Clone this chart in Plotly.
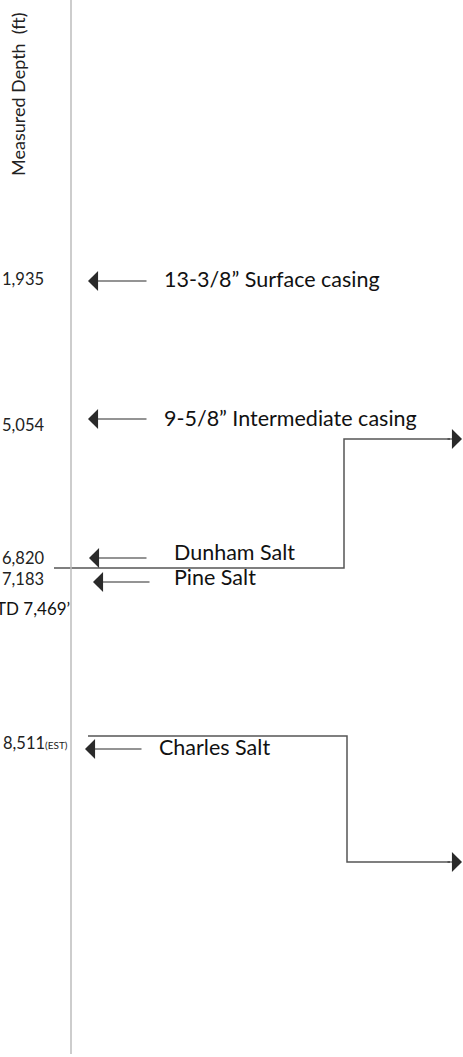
import plotly.graph_objects as go

# ---- data ----
depths = [1935, 5054, 6820, 7183, 8511]
depth_labels = ["1,935", "5,054", "6,820", "7,183", "8,511"]
depth_suffix = ["", "", "", "", "(EST)"]
formations = ["13-3/8” Surface casing", "9-5/8” Intermediate casing",
              "Dunham Salt", "Pine Salt", "Charles Salt"]
td_depth = 7469
td_label = "TD 7,469’"

# schematic layout positions (display units, top = 0)
label_y = [279, 425, 558, 579, 743]
arrow_y = [281, 419, 558, 582, 749]
arrow_x0 = [148, 148, 148, 151, 143]
arrow_x1 = [88, 88, 89, 93, 85]
text_x = [162, 162, 172, 172, 157]
text_y = [279, 418, 552, 577, 747]
td_y = 608

FONT = "Lato"
fig = go.Figure()
fig.add_trace(go.Scatter(x=[0], y=[0], mode="markers", marker=dict(opacity=0), hoverinfo="skip", showlegend=False))

# axis line
fig.add_shape(type="line", x0=71, x1=71, y0=0, y1=1054, line=dict(color="#bdbdbd", width=1.5))

ARROW = dict(showarrow=True, arrowhead=1, arrowsize=2.8, arrowwidth=1.2, arrowcolor="#2a2a2a")

for i in range(len(depths)):
    txt = depth_labels[i]
    if depth_suffix[i]:
        txt += "<span style='font-size:10px'>" + depth_suffix[i] + "</span>"
    fig.add_annotation(x=70 if depth_suffix[i] else 0, y=label_y[i], text=txt, showarrow=False,
                       xanchor="right" if depth_suffix[i] else "left", yanchor="middle",
                       font=dict(family=FONT, size=16.5, color="#222"))
    fig.add_annotation(x=arrow_x1[i], y=arrow_y[i], ax=arrow_x0[i], ay=arrow_y[i],
                       axref="x", ayref="y", xref="x", yref="y", text="", **ARROW)
    fig.add_annotation(x=text_x[i], y=text_y[i], text=formations[i], showarrow=False,
                       xanchor="left", yanchor="middle",
                       font=dict(family=FONT, size=21.5, color="#111"))

fig.add_annotation(x=72, y=td_y, text=td_label, showarrow=False, xanchor="right", yanchor="middle",
                   font=dict(family=FONT, size=17, color="#111"))

fig.add_annotation(x=18, y=95, text="Measured Depth  (ft)", textangle=-90, showarrow=False,
                   xanchor="center", yanchor="middle", font=dict(family=FONT, size=18, color="#222"))

# step connector lines
fig.add_trace(go.Scatter(x=[54, 344, 344, 450], y=[568, 568, 439, 439], mode="lines",
                         line=dict(color="#555", width=1.5), hoverinfo="skip", showlegend=False))
fig.add_annotation(x=462, y=439, ax=446, ay=439, axref="x", ayref="y", text="", **ARROW)
fig.add_trace(go.Scatter(x=[88, 347, 347, 450], y=[736, 736, 862, 862], mode="lines",
                         line=dict(color="#555", width=1.5), hoverinfo="skip", showlegend=False))
fig.add_annotation(x=462, y=862, ax=446, ay=862, axref="x", ayref="y", text="", **ARROW)

fig.update_layout(width=463, height=1057, margin=dict(l=0, r=0, t=0, b=0),
                  plot_bgcolor="white", paper_bgcolor="white",
                  xaxis=dict(range=[0, 463], visible=False, fixedrange=True),
                  yaxis=dict(range=[1057, 0], visible=False, fixedrange=True))
fig.write_html("out.html", config={"displayModeBar": False},
               post_script="document.body.style.margin='0';document.body.style.padding='0';document.body.style.overflow='hidden';")
